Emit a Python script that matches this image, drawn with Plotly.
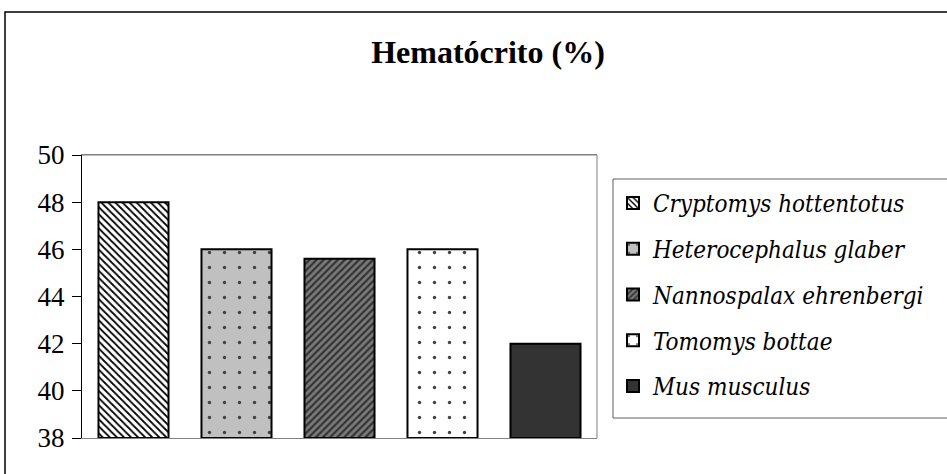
import plotly.graph_objects as go

species = ["Cryptomys hottentotus", "Heterocephalus glaber", "Nannospalax ehrenbergi",
           "Tomomys bottae", "Mus musculus"]
hematocrit = [48.0, 46.0, 45.6, 46.0, 42.0]
y_ticks = [38, 40, 42, 44, 46, 48, 50]
title_text = "Hematócrito (%)"

SERIF = "Liberation Serif, Times New Roman, serif"
ITALIC = "DejaVu Serif Condensed, DejaVu Serif, serif"

styles = [
    dict(bg="#ffffff", fg="#000000", shape="\\", size=5, solidity=0.35),
    dict(bg="#c0c0c0", fg="#404040", shape=".", size=15, solidity=0.04),
    dict(bg="#7a7a7a", fg="#333333", shape="/", size=5, solidity=0.45),
    dict(bg="#ffffff", fg="#404040", shape=".", size=15, solidity=0.04),
    dict(bg="#333333", fg="#333333", shape="", size=8, solidity=0.3),
]

fig = go.Figure()
for i, (name, val) in enumerate(zip(species, hematocrit)):
    st = styles[i]
    fig.add_trace(go.Bar(
        x=[name], y=[val - 38], base=38, name="<i>" + name + "</i>", width=0.68,
        legendgroup=name,
        marker=dict(color=st["bg"], line=dict(color="#000000", width=2),
                    pattern=dict(shape=st["shape"], fgcolor=st["fg"], bgcolor=st["bg"],
                                 size=st["size"], solidity=st["solidity"], fillmode="replace")),
    ))

L, R, T, B = 82, 597, 155, 438
W, H = 947, 474
pw, ph = R - L, B - T

def px(x):
    return (x - L) / pw

def py(y):
    return (B - y) / ph

fig.update_layout(
    width=W, height=H,
    margin=dict(l=L, r=W - R, t=T, b=H - B, autoexpand=False),
    paper_bgcolor="white", plot_bgcolor="white",
    barmode="overlay",
    font=dict(family=SERIF, size=26, color="black"),
    title=dict(text="<b>" + title_text + "</b>", x=488 / W,
               xanchor="center", y=1 - 52 / H, yanchor="middle",
               font=dict(family=SERIF, size=32, color="black")),
    showlegend=True,
    legend=dict(x=px(613), y=py(181), xanchor="left", yanchor="top",
                bgcolor="rgba(0,0,0,0)", borderwidth=0,
                font=dict(family=ITALIC, size=24),
                tracegroupgap=11.5, itemwidth=30),
    xaxis=dict(showticklabels=False, ticks="", showline=True, linecolor="#808080",
               linewidth=1, mirror=True, showgrid=False),
    yaxis=dict(range=[38, 50], tickvals=y_ticks, ticks="outside", ticklen=9,
               tickcolor="black", showline=True, linecolor="black", linewidth=1,
               showgrid=False, zeroline=False, tickfont=dict(family=SERIF, size=27),
               ticklabelstandoff=2),
    shapes=[
        dict(type="rect", xref="paper", yref="paper", x0=px(5), x1=px(960),
             y0=py(490), y1=py(12), line=dict(color="black", width=1.5),
             fillcolor="rgba(0,0,0,0)", layer="below"),
        dict(type="line", xref="paper", yref="paper", x0=1, x1=1, y0=0, y1=1,
             line=dict(color="#808080", width=1)),
        dict(type="line", xref="paper", yref="paper", x0=0, x1=1, y0=1, y1=1,
             line=dict(color="#808080", width=1)),
        dict(type="rect", xref="paper", yref="paper", x0=px(613), x1=px(960),
             y0=py(418), y1=py(179), line=dict(color="#606060", width=1),
             fillcolor="rgba(0,0,0,0)"),
    ],
)

fig.write_html("out.html", config={"displayModeBar": False},
               post_script="document.body.style.margin='0px';")
